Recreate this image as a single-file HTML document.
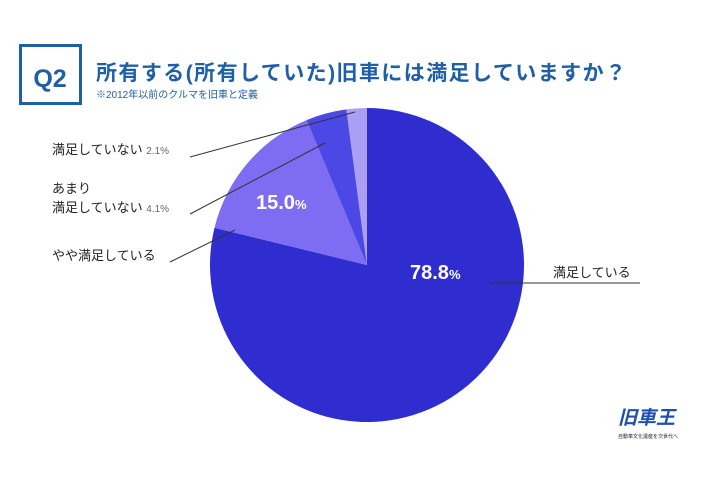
<!DOCTYPE html>
<html><head><meta charset="utf-8"><style>
body{margin:0;width:710px;height:474px;background:#fff;overflow:hidden;font-family:"Liberation Sans","Noto Sans CJK JP",sans-serif;}
</style></head><body>
<svg width="710" height="474" xmlns="http://www.w3.org/2000/svg" font-family="Liberation Sans, Noto Sans CJK JP, sans-serif">
<rect x="20.5" y="45.5" width="60" height="58" fill="none" stroke="#1f5fa8" stroke-width="3"/>
<text x="50" y="87" text-anchor="middle" font-size="25" font-weight="bold" fill="#1f5fa8">Q2</text>
<text x="96" y="80" font-size="21" font-weight="bold" fill="#1f5fa8" textLength="530" lengthAdjust="spacing">所有する(所有していた)旧車には満足していますか？</text>
<text x="96" y="98" font-size="10" fill="#1f5fa8">※2012年以前のクルマを旧車と定義</text>
<g transform="translate(367,265)">
<path d="M0,0 L0,-157 A157,157 0 1,1 -152.5,-37.3 Z" fill="#2f2dcf"/>
<path d="M0,0 L-152.5,-37.3 A157,157 0 0,1 -60.4,-144.9 Z" fill="#7e6df2"/>
<path d="M0,0 L-60.4,-144.9 A157,157 0 0,1 -20.6,-155.6 Z" fill="#4c48e6"/>
<path d="M0,0 L-20.6,-155.6 A157,157 0 0,1 0,-157 Z" fill="#aa9ff5"/>
</g>
<g stroke="#333" stroke-width="1" fill="none">
<line x1="190" y1="157" x2="355" y2="112"/>
<line x1="190" y1="214" x2="325" y2="143"/>
<line x1="170" y1="262" x2="235" y2="230"/>
<line x1="490" y1="283" x2="640" y2="283"/>
</g>
<g font-size="13" fill="#222">
<text x="52" y="154">満足していない <tspan font-size="10" fill="#666">2.1%</tspan></text>
<text x="52" y="193">あまり</text>
<text x="52" y="212">満足していない <tspan font-size="10" fill="#666">4.1%</tspan></text>
<text x="52" y="260">やや満足している</text>
<text x="553" y="277">満足している</text>
</g>
<text x="256" y="209" font-size="20" font-weight="bold" fill="#fff">15.0<tspan font-size="13">%</tspan></text>
<text x="410" y="279" font-size="20" font-weight="bold" fill="#fff">78.8<tspan font-size="13">%</tspan></text>
<text x="618" y="424" font-size="19" font-weight="bold" font-style="italic" fill="#1f4fb0">旧車王</text>
<text x="618" y="438" font-size="5" fill="#223">自動車文化遺産を次世代へ</text>
</svg>
</body></html>
